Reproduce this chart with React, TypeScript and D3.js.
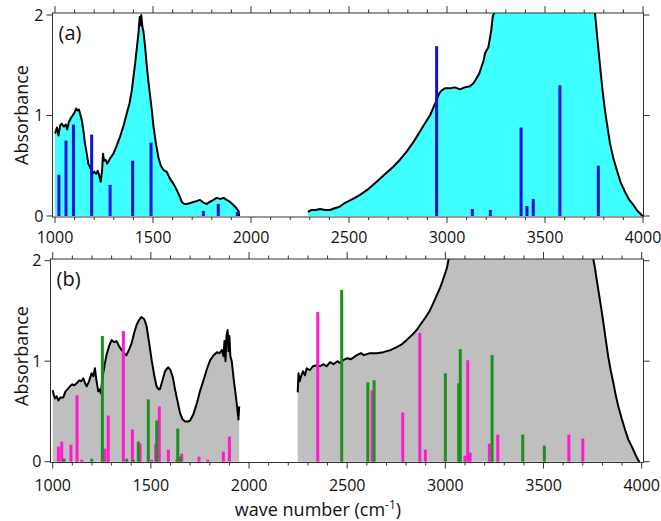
import React from "react";
import * as d3 from "d3";

const W = 661;
const H = 521;
const FONT = "'Open Sans', 'Liberation Sans', sans-serif";

const xTicks = [1000, 1500, 2000, 2500, 3000, 3500, 4000];
const yTicks = [0, 1, 2];

// (a) measured spectrum, low-wavenumber window
const aWave1 = [1000, 1010, 1018, 1026, 1034, 1045, 1055, 1062, 1070, 1080, 1090, 1100, 1108, 1115, 1122, 1136, 1145, 1153, 1162, 1170, 1180, 1190, 1200, 1210, 1218, 1226, 1233, 1240, 1245, 1250, 1258, 1266, 1280, 1298, 1315, 1332, 1350, 1366, 1380, 1392, 1400, 1409, 1418, 1426, 1432, 1436, 1440, 1446, 1451, 1460, 1468, 1476, 1485, 1494, 1502, 1515, 1528, 1540, 1553, 1570, 1587, 1605, 1621, 1635, 1647, 1660, 1672, 1690, 1706, 1725, 1740, 1760, 1774, 1790, 1808, 1825, 1842, 1860, 1876, 1893, 1910, 1925, 1936, 1940];
const aAbs1 = [0.82, 0.88, 0.8, 0.9, 0.92, 0.89, 0.91, 0.86, 0.93, 0.97, 1.0, 1.03, 1.07, 1.05, 1.06, 0.96, 0.85, 0.72, 0.62, 0.52, 0.48, 0.42, 0.44, 0.42, 0.45, 0.4, 0.34, 0.45, 0.62, 0.55, 0.56, 0.52, 0.57, 0.62, 0.7, 0.79, 0.9, 1.02, 1.12, 1.25, 1.38, 1.52, 1.68, 1.82, 1.98, 1.9, 2.0, 1.88, 1.84, 1.68, 1.5, 1.35, 1.2, 1.05, 0.9, 0.72, 0.58, 0.5, 0.46, 0.44, 0.37, 0.32, 0.26, 0.2, 0.14, 0.12, 0.12, 0.13, 0.14, 0.15, 0.16, 0.13, 0.12, 0.14, 0.16, 0.18, 0.17, 0.18, 0.16, 0.14, 0.11, 0.08, 0.05, 0];

// (a) measured spectrum, high-wavenumber window
const aWave2 = [2290, 2310, 2330, 2352, 2380, 2403, 2430, 2450, 2471, 2500, 2530, 2556, 2600, 2641, 2680, 2726, 2760, 2794, 2830, 2862, 2890, 2913, 2935, 2947, 2960, 2973, 2990, 3015, 3040, 3066, 3090, 3117, 3135, 3151, 3165, 3177, 3187, 3194, 3205, 3211, 3220, 3226, 3233, 3245, 3300, 3700, 3755, 3768, 3781, 3793, 3806, 3820, 3832, 3848, 3866, 3885, 3908, 3930, 3951, 3972, 3993, 4000];
const aAbs2 = [0.04, 0.06, 0.06, 0.07, 0.06, 0.06, 0.08, 0.09, 0.12, 0.15, 0.18, 0.21, 0.27, 0.34, 0.41, 0.49, 0.56, 0.64, 0.74, 0.84, 0.93, 1.0, 1.1, 1.15, 1.22, 1.25, 1.27, 1.27, 1.28, 1.26, 1.28, 1.29, 1.32, 1.37, 1.42, 1.49, 1.55, 1.62, 1.66, 1.68, 1.78, 1.85, 1.98, 2.05, 2.2, 2.2, 2.02, 1.75, 1.49, 1.26, 1.05, 0.87, 0.72, 0.58, 0.46, 0.34, 0.24, 0.16, 0.11, 0.05, 0.01, 0];

// (a) calculated modes
const aStickWave = [1020, 1056, 1094, 1187, 1281, 1396, 1490, 1757, 1833, 1930, 2947, 3129, 3221, 3378, 3408, 3440, 3576, 3772];
const aStickAbs = [0.41, 0.75, 0.91, 0.81, 0.31, 0.55, 0.73, 0.05, 0.12, 0.04, 1.69, 0.07, 0.06, 0.88, 0.1, 0.17, 1.3, 0.5];

// (b) measured spectrum, low-wavenumber window
const bWave1 = [1000, 1006, 1012, 1020, 1029, 1040, 1054, 1065, 1075, 1088, 1100, 1110, 1122, 1135, 1145, 1156, 1165, 1173, 1185, 1198, 1207, 1215, 1222, 1232, 1240, 1245, 1252, 1257, 1266, 1274, 1287, 1300, 1312, 1325, 1338, 1351, 1365, 1376, 1390, 1402, 1415, 1427, 1440, 1452, 1458, 1466, 1478, 1490, 1504, 1517, 1529, 1540, 1546, 1558, 1572, 1589, 1600, 1612, 1623, 1636, 1649, 1662, 1674, 1688, 1700, 1716, 1734, 1750, 1768, 1785, 1802, 1820, 1836, 1850, 1862, 1870, 1875, 1880, 1885, 1891, 1895, 1900, 1905, 1912, 1922, 1930, 1939, 1946, 1950];
const bAbs1 = [0.71, 0.66, 0.63, 0.65, 0.61, 0.64, 0.64, 0.7, 0.72, 0.75, 0.77, 0.76, 0.78, 0.81, 0.8, 0.83, 0.78, 0.75, 0.8, 0.88, 0.85, 0.93, 0.82, 0.7, 0.72, 0.68, 0.8, 0.88, 0.98, 1.06, 1.15, 1.21, 1.19, 1.2, 1.15, 1.11, 1.08, 1.06, 1.12, 1.18, 1.28, 1.36, 1.41, 1.44, 1.43, 1.42, 1.35, 1.2, 1.01, 0.86, 0.75, 0.72, 0.72, 0.8, 0.9, 0.94, 0.91, 0.84, 0.72, 0.6, 0.48, 0.42, 0.4, 0.4, 0.41, 0.47, 0.58, 0.7, 0.81, 0.92, 1.01, 1.06, 1.09, 1.08, 1.11, 1.05, 1.2, 1.0, 1.25, 1.31, 1.1, 1.25, 1.05, 1.0, 0.82, 0.7, 0.55, 0.42, 0.55];

// (b) measured spectrum, high-wavenumber window
const bWave2 = [2248, 2252, 2258, 2265, 2275, 2285, 2294, 2310, 2325, 2345, 2362, 2380, 2395, 2413, 2430, 2450, 2465, 2480, 2500, 2520, 2549, 2570, 2585, 2600, 2616, 2650, 2684, 2720, 2752, 2780, 2803, 2830, 2854, 2875, 2897, 2920, 2939, 2957, 2973, 2986, 2998, 3008, 3015, 3025, 3100, 3700, 3750, 3760, 3779, 3792, 3805, 3818, 3830, 3843, 3856, 3868, 3881, 3898, 3915, 3932, 3950, 3968, 3984, 3990];
const bAbs2 = [0.69, 0.88, 0.8, 0.85, 0.9, 0.86, 0.93, 0.91, 0.95, 0.96, 0.95, 0.97, 0.95, 0.99, 0.97, 1.0, 0.98, 1.01, 1.03, 1.02, 1.06, 1.08, 1.06, 1.07, 1.08, 1.08, 1.09, 1.11, 1.14, 1.17, 1.21, 1.26, 1.31, 1.37, 1.43, 1.5, 1.58, 1.66, 1.73, 1.8, 1.87, 1.93, 2.0, 2.1, 2.2, 2.2, 2.05, 1.95, 1.71, 1.55, 1.38, 1.2, 1.04, 0.9, 0.78, 0.66, 0.55, 0.43, 0.32, 0.22, 0.15, 0.07, 0.01, 0];

// (b) calculated modes, two structures
const bMagWave = [1029, 1046, 1093, 1124, 1148, 1266, 1283, 1360, 1406, 1445, 1504, 1525, 1543, 1589, 1632, 1657, 1745, 1790, 1869, 1900, 2350, 2627, 2783, 2870, 2898, 3100, 3114, 3126, 3224, 3267, 3629, 3700];
const bMagAbs = [0.15, 0.2, 0.17, 0.66, 0.02, 0.13, 0.46, 1.3, 0.32, 0.18, 0.02, 0.18, 0.55, 0.12, 0.02, 0.08, 0.05, 0.02, 0.1, 0.25, 1.49, 0.71, 0.49, 1.28, 0.12, 0.06, 1.01, 0.09, 0.18, 0.27, 0.27, 0.23];
const bGreenWave = [1058, 1199, 1253, 1377, 1411, 1436, 1487, 1530, 1637, 1650, 2472, 2605, 2637, 3000, 3068, 3076, 3238, 3394, 3504];
const bGreenAbs = [0.03, 0.03, 1.25, 0.03, 0.02, 0.2, 0.62, 0.41, 0.33, 0.05, 1.71, 0.79, 0.81, 0.88, 0.78, 1.12, 1.06, 0.27, 0.16];

const zip = (w: number[], v: number[]) => w.map((d, i) => [d, v[i]] as [number, number]);

type Sticks = { wave: number[]; abs: number[]; color: string };

type PanelProps = {
  id: string;
  label: string;
  frame: { left: number; right: number; top: number; bottom: number };
  xRange: [number, number];
  yRange: [number, number];
  segments: [number, number][][];
  fill: string;
  sticks: Sticks[];
  tickBaseline: number;
  titleY: number;
};

const Panel = ({ id, label, frame, xRange, yRange, segments, fill, sticks, tickBaseline, titleY }: PanelProps) => {
  const x = d3.scaleLinear().domain([1000, 4000]).range(xRange);
  const y = d3.scaleLinear().domain([0, 2]).range(yRange);

  const area = d3.area<[number, number]>()
    .x(d => x(d[0]))
    .y0(y(0))
    .y1(d => y(d[1]));
  const line = d3.line<[number, number]>()
    .x(d => x(d[0]))
    .y(d => y(d[1]));

  const minor = d3.range(1000, 4001, 100);

  return (
    <g>
      <defs>
        <clipPath id={id}>
          <rect x={frame.left} y={frame.top} width={frame.right - frame.left} height={frame.bottom - frame.top} />
        </clipPath>
      </defs>
      <g clipPath={`url(#${id})`}>
        {segments.map((s, i) => (
          <path key={"a" + i} d={area(s) || ""} fill={fill} />
        ))}
        {segments.map((s, i) => (
          <path key={"l" + i} d={line(s) || ""} fill="none" stroke="#000" strokeWidth={2} strokeLinejoin="round" />
        ))}
        {sticks.map((st, j) =>
          st.wave.map((w, i) => (
            <rect key={j + "-" + i} x={x(w) - 1.5} y={y(st.abs[i])} width={3} height={y(0) - y(st.abs[i])} fill={st.color} />
          ))
        )}
      </g>
      <rect x={frame.left} y={frame.top} width={frame.right - frame.left} height={frame.bottom - frame.top} fill="none" stroke="#333" strokeWidth={1} />
      {minor.map(t => {
        const major = t % 500 === 0;
        return (
          <g key={t} stroke="#333" strokeWidth={1}>
            <line x1={x(t)} x2={x(t)} y1={frame.top} y2={frame.top - (major ? 7 : 3.5)} />
            <line x1={x(t)} x2={x(t)} y1={frame.bottom} y2={frame.bottom + (major ? 6 : 3)} />
          </g>
        );
      })}
      {yTicks.map(t => (
        <g key={t} stroke="#333" strokeWidth={1}>
          <line x1={frame.left} x2={frame.left - 6} y1={y(t)} y2={y(t)} />
          <line x1={frame.right} x2={frame.right + 6} y1={y(t)} y2={y(t)} />
        </g>
      ))}
      {yTicks.map(t => (
        <text key={t} x={frame.left - 9} y={y(t)} dy="0.36em" textAnchor="end" fontSize={16} fontFamily={FONT} fill="#111">
          {t}
        </text>
      ))}
      {xTicks.map(t => (
        <text key={t} x={x(t)} y={tickBaseline} textAnchor="middle" fontSize={16} fontFamily={FONT} fill="#111">
          {t}
        </text>
      ))}
      <text x={frame.left + 6} y={frame.top + 27} fontSize={20} fontFamily={FONT} fill="#111">{label}</text>
      <text transform={`translate(28,${titleY}) rotate(-90)`} textAnchor="middle" fontSize={18} fontFamily={FONT} fill="#111">
        Absorbance
      </text>
    </g>
  );
};

export default function App() {
  return (
    <svg width={W} height={H} style={{ position: "absolute", left: 0, top: 0, background: "#fff" }}>
      <Panel
        id="clipA"
        label="(a)"
        frame={{ left: 52.5, right: 643.5, top: 13, bottom: 217 }}
        xRange={[55, 643]}
        yRange={[216, 15]}
        segments={[zip(aWave1, aAbs1), zip(aWave2, aAbs2)]}
        fill="#40FFFF"
        sticks={[{ wave: aStickWave, abs: aStickAbs, color: "#1010DD" }]}
        tickBaseline={243}
        titleY={115}
      />
      <Panel
        id="clipB"
        label="(b)"
        frame={{ left: 50.5, right: 643.5, top: 259, bottom: 462.5 }}
        xRange={[52.7, 641.7]}
        yRange={[461.7, 260.7]}
        segments={[zip(bWave1, bAbs1), zip(bWave2, bAbs2)]}
        fill="#BFBFBF"
        sticks={[
          { wave: bMagWave, abs: bMagAbs, color: "#FF1ACC" },
          { wave: bGreenWave, abs: bGreenAbs, color: "#1E8F1E" },
        ]}
        tickBaseline={491}
        titleY={356}
      />
      <text x={318} y={516} textAnchor="middle" fontSize={18} fontFamily={FONT} fill="#111">
        wave number (cm<tspan dy={-7} fontSize={12}>-1</tspan><tspan dy={7}>)</tspan>
      </text>
    </svg>
  );
}
